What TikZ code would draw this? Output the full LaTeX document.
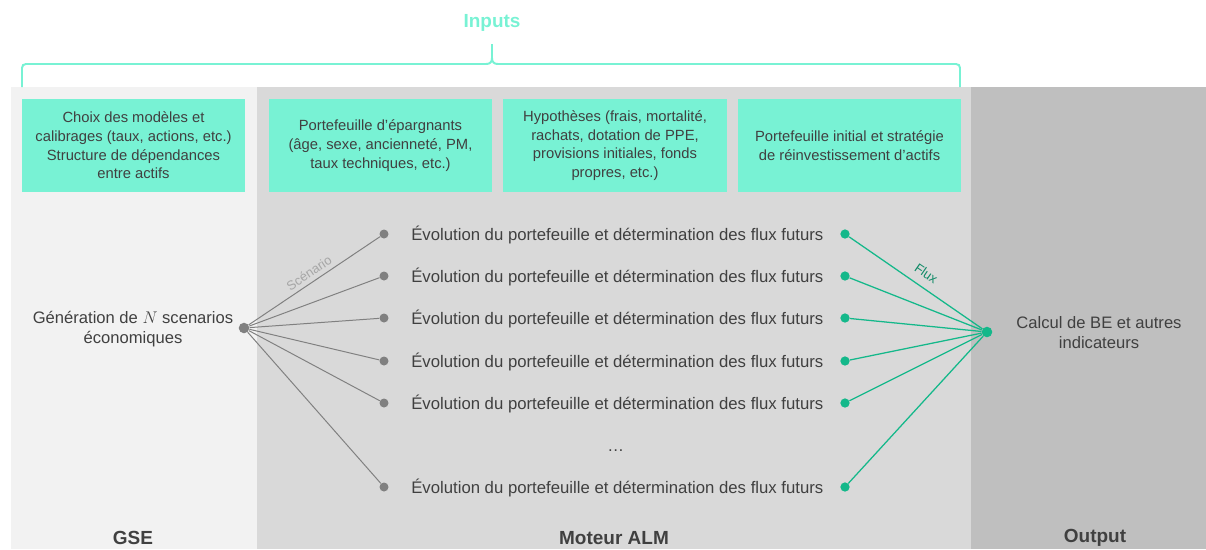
\documentclass[tikz,border=0pt]{standalone}
\usepackage{fontspec}
\setmainfont{Liberation Sans}
\definecolor{gsegray}{HTML}{F2F2F2}
\definecolor{almgray}{HTML}{D9D9D9}
\definecolor{outgray}{HTML}{BFBFBF}
\definecolor{mint}{HTML}{78F2D4}
\definecolor{inktext}{HTML}{404040}
\definecolor{fluxgreen}{HTML}{14B88A}
\definecolor{fluxdark}{HTML}{0F8A66}
\definecolor{scengray}{HTML}{808080}
\definecolor{scenlabelgray}{HTML}{A6A6A6}
\tikzset{
  inputbox/.style={fill=mint, minimum width=5.575cm, minimum height=2.325cm, align=center, inner sep=0pt,
    font=\fontsize{10.5}{13.3}\selectfont},
  bracestyle/.style={draw=mint, line width=1.4pt},
  inputslabel/.style={text=mint, font=\fontsize{13.5}{16}\selectfont\bfseries},
  panellabel/.style={font=\fontsize{13.5}{16}\selectfont\bfseries},
  maintext/.style={align=center, font=\fontsize{11.8}{14.2}\selectfont},
  rowtext/.style={anchor=base west, inner sep=0pt},
  scendot/.style={circle, fill=scengray, inner sep=0pt, minimum size=6.4pt},
  fluxdot/.style={circle, fill=fluxgreen, inner sep=0pt, minimum size=6.6pt},
  scenline/.style={draw=scengray, line width=0.7pt},
  fluxline/.style={draw=fluxgreen, line width=0.9pt},
  edgelabel/.style={font=\fontsize{9.2}{11}\selectfont, sloped, above=2pt, inner sep=1pt}
}
\begin{document}
\begin{tikzpicture}[x=0.025cm, y=-0.025cm, font=\fontsize{11.9}{14.2}\selectfont, text=inktext]
            \useasboundingbox (0,0) rectangle (1206,549);
            
            % Drawing panels GSE, Moteur ALM and Output
            \fill [gsegray] (11,87) rectangle (257,549);%
            \fill [almgray] (257,87) rectangle (971,549);%
            \fill [outgray] (971,87) rectangle (1206,549);%
            
            % Drawing brace over the inputs
            \draw [bracestyle] (22,87) -- (22,68) .. controls (22,65.5) and (23.5,64) .. (26,64) -- (486,64) .. controls (490,64) and (492,62) .. (492,58) -- (492,44);%
            \draw [bracestyle] (960,87) -- (960,68) .. controls (960,65.5) and (958.5,64) .. (956,64) -- (498,64) .. controls (494,64) and (492,62) .. (492,58);%
            \node [inputslabel] (inputs) at (492,23) {Inputs};%
            
            % Marking input boxes
            \node [inputbox] (models) at (133.5,145.5) {Choix des modèles et\\calibrages (taux, actions, etc.)\\Structure de dépendances\\entre actifs};%
            \node [inputbox] (savers) at (380.5,145.5) {Portefeuille d’épargnants\\(âge, sexe, ancienneté, PM,\\taux techniques, etc.)};%
            \node [inputbox] (hypotheses) at (615,145.5) {Hypothèses (frais, mortalité,\\rachats, dotation de PPE,\\provisions initiales, fonds\\propres, etc.)};%
            \node [inputbox] (assets) at (849.5,145.5) {Portefeuille initial et stratégie\\de réinvestissement d’actifs};%
            
            % Marking scenario generator and output
            \node [maintext] (gsetext) at (133,329) {Génération de $N$ scenarios\\économiques};%
            \node [scendot, minimum size=7.5pt] (gsehub) at (244,328) {};%
            \node [maintext] (calctext) at (1099,333) {Calcul de BE et autres\\indicateurs};%
            \node [fluxdot, minimum size=7.5pt] (calchub) at (987,332) {};%
            
            % Marking projection rows
            \node [scendot] (s1) at (384,234) {};%
            \node [rowtext] (r1) at (411,240) {Évolution du portefeuille et détermination des flux futurs};%
            \node [fluxdot] (f1) at (845,234) {};%
            
            \node [scendot] (s2) at (384,276) {};%
            \node [rowtext] (r2) at (411,282) {Évolution du portefeuille et détermination des flux futurs};%
            \node [fluxdot] (f2) at (845,276) {};%
            
            \node [scendot] (s3) at (384,318) {};%
            \node [rowtext] (r3) at (411,324) {Évolution du portefeuille et détermination des flux futurs};%
            \node [fluxdot] (f3) at (845,318) {};%
            
            \node [scendot] (s4) at (384,361) {};%
            \node [rowtext] (r4) at (411,367) {Évolution du portefeuille et détermination des flux futurs};%
            \node [fluxdot] (f4) at (845,361) {};%
            
            \node [scendot] (s5) at (384,403) {};%
            \node [rowtext] (r5) at (411,409) {Évolution du portefeuille et détermination des flux futurs};%
            \node [fluxdot] (f5) at (845,403) {};%
            
            \node [rowtext] (dots) at (607,451) {…};%
            
            \node [scendot] (s6) at (384,487) {};%
            \node [rowtext] (r6) at (411,493) {Évolution du portefeuille et détermination des flux futurs};%
            \node [fluxdot] (f6) at (845,487) {};%
            
            % Drawing scenario lines
            \draw [scenline] (gsehub) -- node [edgelabel, text=scenlabelgray, pos=0.5] {Scénario} (s1);%
            \draw [scenline] (gsehub) -- (s2);%
            \draw [scenline] (gsehub) -- (s3);%
            \draw [scenline] (gsehub) -- (s4);%
            \draw [scenline] (gsehub) -- (s5);%
            \draw [scenline] (gsehub) -- (s6);%
            
            % Drawing flux lines
            \draw [fluxline] (f1) -- node [edgelabel, text=fluxdark, pos=0.52, above=3pt] {Flux} (calchub);%
            \draw [fluxline] (f2) -- (calchub);%
            \draw [fluxline] (f3) -- (calchub);%
            \draw [fluxline] (f4) -- (calchub);%
            \draw [fluxline] (f5) -- (calchub);%
            \draw [fluxline] (f6) -- (calchub);%
            
            % Marking panel names
            \node [panellabel] (gselabel) at (133,538) {GSE};%
            \node [panellabel] (almlabel) at (614,538) {Moteur ALM};%
            \node [panellabel] (outlabel) at (1095,538) {Output};%
        \end{tikzpicture}
\end{document}
